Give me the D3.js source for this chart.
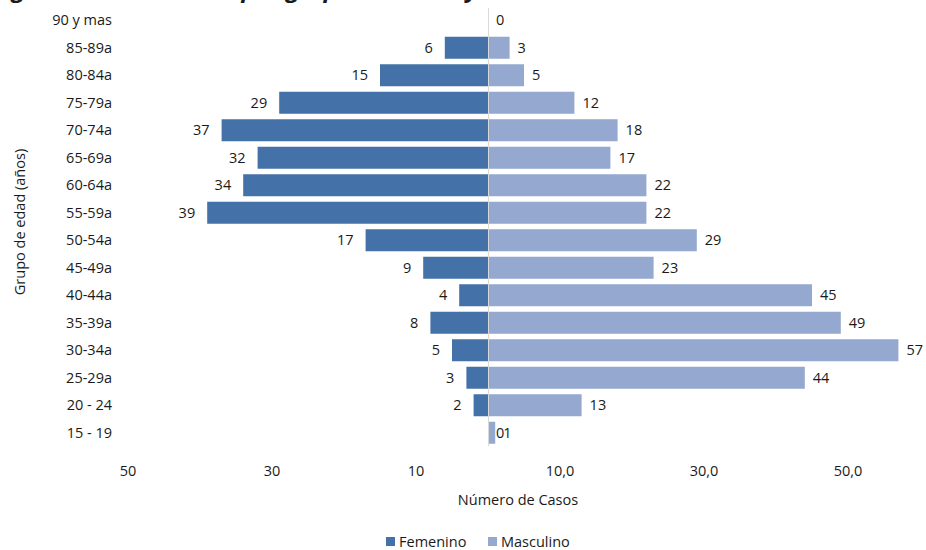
<!DOCTYPE html>
<html><head><meta charset="utf-8">
<script src="https://cdn.jsdelivr.net/npm/d3@7"></script>
<style>
body{margin:0;background:#fff;}
svg text{font-family:"Open Sans","Noto Sans",sans-serif;fill:#1a1a1a;}
</style></head>
<body>
<svg id="c" width="926" height="550"></svg>
<script>
const groups = ["90 y mas","85-89a","80-84a","75-79a","70-74a","65-69a","60-64a","55-59a","50-54a","45-49a","40-44a","35-39a","30-34a","25-29a","20 - 24","15 - 19"];
const femenino = [0,6,15,29,37,32,34,39,17,9,4,8,5,3,2,0];
const masculino = [0,3,5,12,18,17,22,22,29,23,45,49,57,44,13,1];
const tickValues = [-50,-30,-10,10,30,50];
const tickLabels = ["50","30","10","10,0","30,0","50,0"];
const title = "Figura n. Distribución por grupos de edad y sexo cohorte 2015";

const colF = "#4471a8", colM = "#94a8d0";
const svg = d3.select("#c");
const x = d3.scaleLinear().domain([-50, 60]).range([128, 920]);
const y = d3.scaleBand().domain(groups).range([6.5, 446.5]).paddingInner(0.2).paddingOuter(0.1);

// title (cut off at the top edge, as in the reference)
svg.append("text").attr("x", -8).attr("y", -3.5).style("font-size","24px").style("font-style","italic").style("font-weight","bold")
  .text(title);

// bars
groups.forEach((g,i)=>{
  const yy = y(g), h = y.bandwidth();
  if (femenino[i] > 0) svg.append("rect").attr("x", x(-femenino[i])).attr("y", yy).attr("width", x(0)-x(-femenino[i])).attr("height", h).attr("fill", colF);
  if (masculino[i] > 0) svg.append("rect").attr("x", x(0)).attr("y", yy).attr("width", x(masculino[i])-x(0)).attr("height", h).attr("fill", colM);
});

// center axis line
svg.append("line").attr("x1", x(0)+0.5).attr("x2", x(0)+0.5).attr("y1", 8).attr("y2", 446).attr("stroke", "#d9d9d9").attr("stroke-width", 1);

// value labels
const lf = "14.5px";
groups.forEach((g,i)=>{
  const cy = y(g) + y.bandwidth()/2 + 5;
  const f = femenino[i], m = masculino[i];
  if (f > 0) svg.append("text").attr("x", x(-f)-12).attr("y", cy).attr("text-anchor","end").style("font-size",lf).text(f);
  else if (m > 0) svg.append("text").attr("x", x(0)+8).attr("y", cy).attr("text-anchor","start").style("font-size",lf).text(f);
  svg.append("text").attr("x", x(m)+8).attr("y", cy).attr("text-anchor","start").style("font-size",lf).text(m);
});

// y category labels
groups.forEach(g=>{
  svg.append("text").attr("x", 112).attr("y", y(g)+y.bandwidth()/2+5).attr("text-anchor","end").style("font-size",lf).text(g);
});

// x tick labels
tickValues.forEach((v,i)=>{
  svg.append("text").attr("x", x(v)).attr("y", 476).attr("text-anchor","middle").style("font-size",lf).text(tickLabels[i]);
});

// axis titles
svg.append("text").attr("x", 518).attr("y", 505).attr("text-anchor","middle").style("font-size",lf).text("Número de Casos");
svg.append("text").attr("transform","translate(25,222) rotate(-90)").attr("text-anchor","middle").style("font-size",lf).text("Grupo de edad (años)");

// legend
const lg = svg.append("g");
lg.append("rect").attr("x",386).attr("y",537).attr("width",9).attr("height",9).attr("fill",colF);
lg.append("text").attr("x",399).attr("y",547).style("font-size",lf).text("Femenino");
lg.append("rect").attr("x",488).attr("y",537).attr("width",9).attr("height",9).attr("fill",colM);
lg.append("text").attr("x",501).attr("y",547).style("font-size",lf).text("Masculino");
</script>
</body></html>
